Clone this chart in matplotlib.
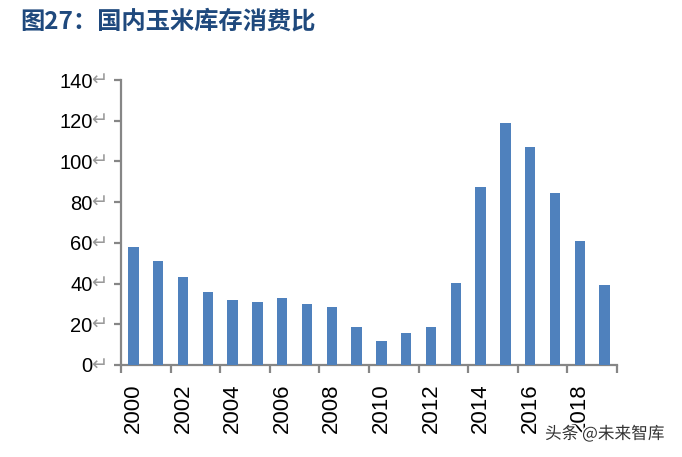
import numpy as np
import matplotlib

matplotlib.use("Agg")
import matplotlib.pyplot as plt
import matplotlib.patheffects as pe
from matplotlib.transforms import blended_transform_factory

years = list(range(2000, 2020))
ratio = [58, 51, 43, 36, 32, 31, 33, 30, 28.5, 18.7,
         11.8, 15.7, 18.7, 40.3, 87.4, 119, 107, 84.5, 61, 39.3]
y_ticks = [0, 20, 40, 60, 80, 100, 120, 140]
title = "图27：国内玉米库存消费比"
watermark = "头条 @未来智库"

bar_color = "#4F81BD"
axis_color = "#868686"
cjk = ["Noto Sans CJK SC", "DejaVu Sans"]

fig = plt.figure(figsize=(6.82, 4.57), dpi=100)
ax = fig.add_axes([121 / 682, 1 - 365 / 457, 496 / 682, 285 / 457])

x = np.arange(len(years))
ax.bar(x, ratio, width=0.42, color=bar_color, zorder=3)

ax.set_xlim(-0.5, len(years) - 0.5)
ax.set_ylim(0, 140)

for side in ("top", "right"):
    ax.spines[side].set_visible(False)
for side in ("left", "bottom"):
    ax.spines[side].set_color(axis_color)
    ax.spines[side].set_linewidth(1.6)

# tick marks between pairs of years, labels under the even years
ax.set_xticks(np.arange(-0.5, len(years), 2))
ax.set_xticklabels([])
ax.tick_params(axis="x", which="major", direction="out", length=6,
               width=1.6, color=axis_color)
ax.set_xticks(x[::2], minor=True)
ax.set_xticklabels([str(y) for y in years[::2]], minor=True, rotation=90,
                   fontsize=16, family="Liberation Sans")
ax.tick_params(axis="x", which="minor", length=0, pad=13)

ax.set_yticks(y_ticks)
ax.set_yticklabels([str(v) for v in y_ticks], fontsize=14.5,
                   family="Liberation Sans")
ax.tick_params(axis="y", direction="out", length=5, width=1.6,
               color=axis_color, pad=15.5)
trans = blended_transform_factory(ax.transAxes, ax.transData)
for v in y_ticks:
    ax.text(-0.027, v, "↵", transform=trans, ha="right", va="center",
            fontsize=14, color="#9a9a9a", family="DejaVu Sans")

fig.text(20 / 682, 1 - 22 / 457, title, family=cjk, fontsize=17.5,
         fontweight="bold", color="#1F497D", va="center", ha="left")
# watermark sits over the last year label, as in the source image
fig.text(545 / 682, 1 - 434 / 457, watermark, family=cjk, fontsize=12,
         color="#333333", va="center", ha="left", zorder=5,
         path_effects=[pe.withStroke(linewidth=2.5, foreground="white")])

fig.savefig("out.png", dpi=100)
plt.close(fig)
